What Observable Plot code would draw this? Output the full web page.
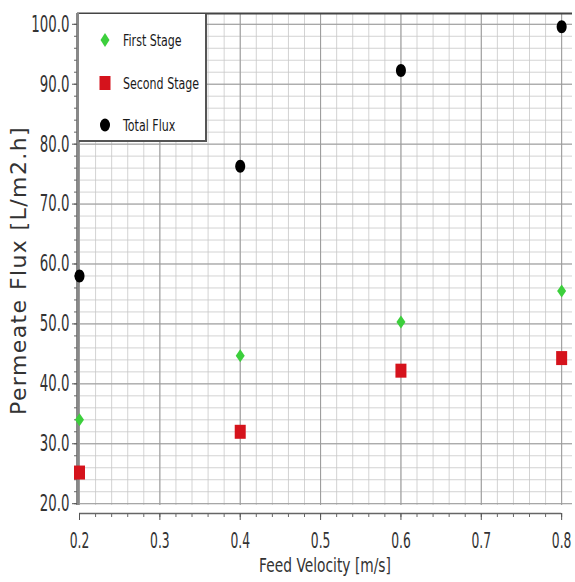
<!DOCTYPE html>
<html>
<head>
<meta charset="utf-8">
<script src="https://cdn.jsdelivr.net/npm/d3@7"></script>
<script src="https://cdn.jsdelivr.net/npm/@observablehq/plot@0.6"></script>
<style>
  body { margin: 0; background: #fff; }
  #wrap { position: relative; width: 575px; height: 582px; }
  #legend { position: absolute; left: 79px; top: 14px; width: 126px; height: 126px; background: #fff;
    border-right: 2px solid #555; border-bottom: 2px solid #555; font-family: "DejaVu Sans", sans-serif; font-size: 16px; color: #1a1a1a; }
  .item { position: absolute; left: 0; height: 20px; display: flex; align-items: center; white-space: nowrap; }
  .item svg { margin-left: 20px; margin-right: 12px; flex: none; }
  .item span { display: inline-block; transform: scaleX(0.69); transform-origin: left center; }
  .ytitle text { letter-spacing: 1.4px; }
</style>
</head>
<body>
<div id="wrap"></div>
<script>
// ---- data ----
const feedVelocity = [0.2, 0.4, 0.6, 0.8];
const firstStage  = [34.0, 44.7, 50.3, 55.5];
const secondStage = [25.2, 32.0, 42.2, 44.3];
const totalFlux   = [58.0, 76.3, 92.3, 99.6];
const seriesNames = ["First Stage", "Second Stage", "Total Flux"];
const seriesColors = ["#3ccf3c", "#d5131c", "#000000"];
const xTicks = [0.2, 0.3, 0.4, 0.5, 0.6, 0.7, 0.8];
const xTickLabels = ["0.2", "0.3", "0.4", "0.5", "0.6", "0.7", "0.8"];
const yTicks = [20, 30, 40, 50, 60, 70, 80, 90, 100];
const yTickLabels = ["20.0", "30.0", "40.0", "50.0", "60.0", "70.0", "80.0", "90.0", "100.0"];
const xTitle = "Feed Velocity [m/s]";
const yTitle = "Permeate Flux [L/m2.h]";

// minor grid positions
const xMinor = d3.range(0, 31).map(i => +(0.2 + i * 0.02).toFixed(2));
const yMinor = d3.range(0, 41).map(i => 20 + i * 2);

const rows = [];
feedVelocity.forEach((v, i) => {
  rows.push({v, flux: firstStage[i], s: seriesNames[0]});
  rows.push({v, flux: secondStage[i], s: seriesNames[1]});
  rows.push({v, flux: totalFlux[i], s: seriesNames[2]});
});

// custom symbols
function diamondSym(w, h) { return {draw(c) { c.moveTo(0, -h/2); c.lineTo(w/2, 0); c.lineTo(0, h/2); c.lineTo(-w/2, 0); c.closePath(); }}; }
function rectSym(w, h) { return {draw(c) { c.rect(-w/2, -h/2, w, h); }}; }
function ellipseSym(rx, ry) { const k = 0.5523; return {draw(c) {
  c.moveTo(rx, 0);
  c.bezierCurveTo(rx, ry*k, rx*k, ry, 0, ry);
  c.bezierCurveTo(-rx*k, ry, -rx, ry*k, -rx, 0);
  c.bezierCurveTo(-rx, -ry*k, -rx*k, -ry, 0, -ry);
  c.bezierCurveTo(rx*k, -ry, rx, -ry*k, rx, 0);
  c.closePath(); }}; }
const symbols = [diamondSym(9, 13), rectSym(11, 14), ellipseSym(5, 6.5)];

const xDom = [0.1975, 0.8135], yDom = [19.7, 101.8];

const chart = Plot.plot({
  width: 575, height: 582,
  marginLeft: 77, marginRight: 3, marginTop: 13, marginBottom: 77,
  x: {domain: xDom},
  y: {domain: yDom},
  style: {fontFamily: '"DejaVu Sans", sans-serif', background: "#fff", color: "#333"},
  marks: [
    Plot.gridX(xMinor, {stroke: "#c8c8c8", strokeOpacity: 1, strokeWidth: 0.8}),
    Plot.gridY(yMinor, {stroke: "#c8c8c8", strokeOpacity: 1, strokeWidth: 0.8}),
    Plot.gridX(xTicks, {stroke: "#9a9a9a", strokeOpacity: 1, strokeWidth: 1}),
    Plot.gridY(yTicks, {stroke: "#9a9a9a", strokeOpacity: 1, strokeWidth: 1}),
    Plot.ruleY([yDom[1]], {stroke: "#444", strokeWidth: 2}),
    Plot.ruleX([xDom[0]], {stroke: "#888", strokeWidth: 3}),
    // y axis
    Plot.axisY(yMinor, {tickSize: 3, tickFormat: () => "", label: null, stroke: "#666"}),
    Plot.axisY(yTicks, {tickSize: 5, tickPadding: 3, tickFormat: d => yTickLabels[yTicks.indexOf(d)], fontSize: 23, label: null, stroke: "#555", className: "cond58"}),
    // x axis (detached line below frame)
    Plot.ruleY([yDom[0]], {x1: xTicks[0], x2: xTicks[xTicks.length - 1], dy: 8, stroke: "#666", strokeWidth: 1.5}),
    Plot.axisX(xMinor, {tickSize: 4, dy: 8, tickFormat: () => "", label: null, stroke: "#666"}),
    Plot.axisX(xTicks, {tickSize: 7, dy: 8, tickPadding: 12, tickFormat: d => xTickLabels[xTicks.indexOf(d)], fontSize: 22, label: null, stroke: "#555", className: "cond56"}),
    // titles
    Plot.text([xTitle], {text: d => d, frameAnchor: "bottom", dy: 66, fontSize: 20, fill: "#333", className: "cond69"}),
    Plot.text([yTitle], {text: d => d, frameAnchor: "left", textAnchor: "middle", dx: -59, dy: 11, rotate: -90, fontSize: 22, fill: "#333", className: "ytitle"}),
    // data
    ...seriesNames.map((name, i) =>
      Plot.dot(rows.filter(r => r.s === name), {x: "v", y: "flux", symbol: symbols[i], fill: seriesColors[i], stroke: "none", r: 5})
    )
  ]
});

const wrap = document.getElementById("wrap");
wrap.appendChild(chart);

// condense glyphs horizontally around each text's anchor (narrow font look)
function condense(sel, f) {
  chart.querySelectorAll(sel + " text").forEach(t => {
    const bb = t.getBBox();
    if (!bb.width) return;
    const anchor = getComputedStyle(t).textAnchor;
    const cx = anchor === "end" ? bb.x + bb.width : anchor === "middle" ? bb.x + bb.width / 2 : bb.x;
    const prev = t.getAttribute("transform") || "";
    t.setAttribute("transform", `${prev} translate(${cx},0) scale(${f},1) translate(${-cx},0)`.trim());
  });
}
condense(".cond58", 0.58);
condense(".cond56", 0.56);
condense(".cond69", 0.69);

// legend
const legend = document.createElement("div");
legend.id = "legend";
const shapes = [
  c => `<polygon points="6,0 10.5,7 6,14 1.5,7" fill="${c}"/>`,
  c => `<rect x="0.5" y="0" width="11" height="14" fill="${c}"/>`,
  c => `<ellipse cx="6" cy="7" rx="5" ry="6.5" fill="${c}"/>`
];
const rowTops = [16, 59, 101];
seriesNames.forEach((name, i) => {
  const it = document.createElement("div");
  it.className = "item";
  it.style.top = rowTops[i] + "px";
  it.innerHTML = `<svg width="12" height="14">${shapes[i](seriesColors[i])}</svg><span>${name}</span>`;
  legend.appendChild(it);
});
wrap.appendChild(legend);
</script>
</body>
</html>
